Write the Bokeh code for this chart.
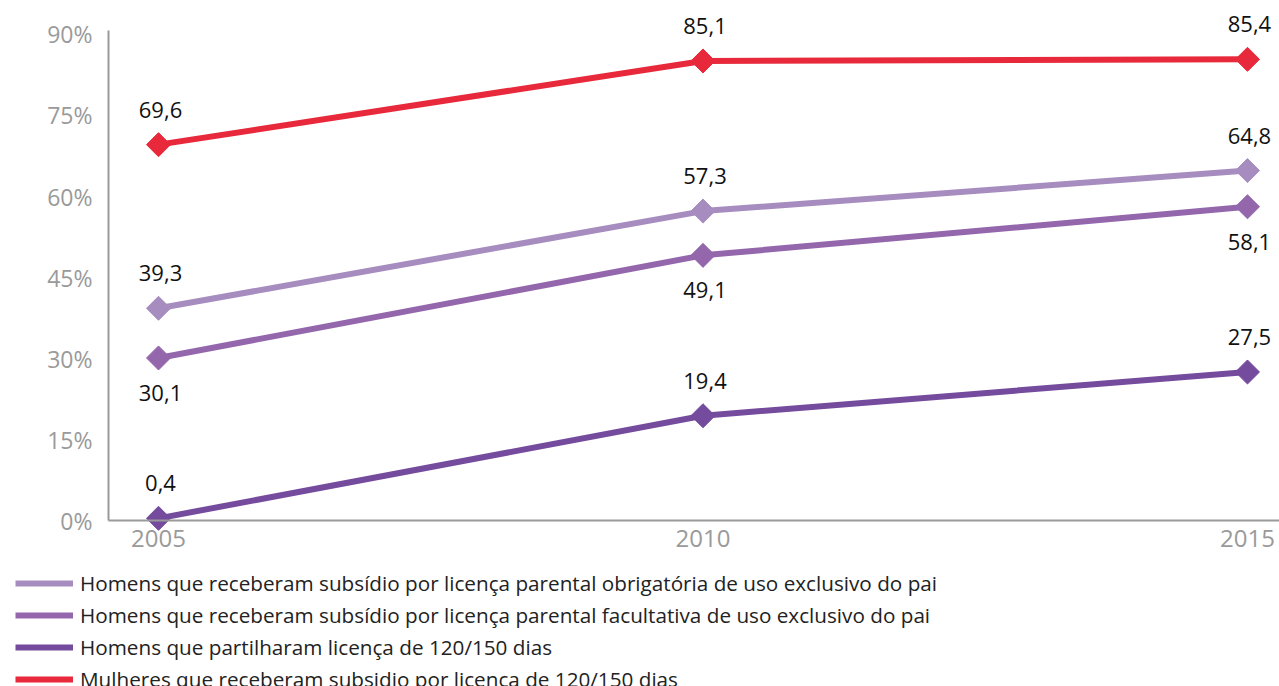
from bokeh.plotting import figure
from bokeh.models import (ColumnDataSource, FixedTicker, PrintfTickFormatter, Legend, LegendItem, Range1d)
from bokeh.core.properties import value
from bokeh.embed import file_html
from bokeh.resources import INLINE
import math

years = [2005, 2010, 2015]
series_names = [
    "Homens que receberam subsídio por licença parental obrigatória de uso exclusivo do pai",
    "Homens que receberam subsídio por licença parental facultativa de uso exclusivo do pai",
    "Homens que partilharam licença de 120/150 dias",
    "Mulheres que receberam subsidio por licença de 120/150 dias",
]
obrigatoria = [39.3, 57.3, 64.8]
facultativa = [30.1, 49.1, 58.1]
partilharam = [0.4, 19.4, 27.5]
mulheres = [69.6, 85.1, 85.4]
series_values = [obrigatoria, facultativa, partilharam, mulheres]
colors = ["#A78DBF", "#9467AD", "#754B9D", "#E8293B"]
# label placement: +1 above, -1 below
label_side = [[1, 1, 1], [-1, -1, -1], [1, 1, 1], [1, 1, 1]]
y_ticks = [0, 15, 30, 45, 60, 75, 90]
x_ticks = [2005, 2010, 2015]

FONT = "Open Sans"
X0 = 2004.541   # where the value axis sits
YTOP = 90.74    # top of the value axis line

p = figure(width=1279, height=686, output_backend="svg", toolbar_location=None,
           x_range=Range1d(2003.549, 2015.294), y_range=Range1d(-30.74, 96.296),
           min_border_left=0, min_border_right=0, min_border_top=0, min_border_bottom=0)
p.outline_line_color = None
p.grid.grid_line_color = None
p.background_fill_color = "white"

# axes (fixed inside the frame)
p.yaxis.ticker = FixedTicker(ticks=y_ticks)
p.yaxis.formatter = PrintfTickFormatter(format="%d%%")
p.yaxis.fixed_location = X0
p.yaxis.bounds = (0, YTOP)
p.xaxis.ticker = FixedTicker(ticks=x_ticks)
p.xaxis.formatter = PrintfTickFormatter(format="%d")
p.xaxis.fixed_location = 0
p.xaxis.bounds = (X0, 2015.294)
for ax in (p.xaxis, p.yaxis):
    ax.axis_line_color = "#9a9a9a"
    ax.axis_line_width = 2
    ax.major_tick_line_color = None
    ax.minor_tick_line_color = None
    ax.major_label_text_color = "#9a9a9a"
    ax.major_label_text_font = FONT
p.yaxis.major_label_text_font_size = "23px"
p.yaxis.major_label_standoff = 10
p.xaxis.major_label_text_font_size = "24px"
p.xaxis.major_label_standoff = 3

items = []
for name, vals, col, sides in zip(series_names, series_values, colors, label_side):
    src = ColumnDataSource(dict(
        x=years, y=vals,
        lab=[f"{v:.1f}".replace(".", ",") for v in vals],
        off=[-35 * s for s in sides],
    ))
    r = p.line("x", "y", source=src, line_color=col, line_width=6)
    p.scatter("x", "y", source=src, marker="square", size=17, angle=math.pi / 4,
              fill_color=col, line_color=col)
    p.text("x", "y", text="lab", source=src, y_offset="off", x_offset=2,
           text_align="center", text_baseline="middle", text_color="#111111",
           text_font=value(FONT), text_font_size="22px")
    items.append(LegendItem(label=name, renderers=[r]))

legend = Legend(items=items, location=(15, -7), orientation="vertical",
                glyph_width=58, glyph_height=22, label_height=22, spacing=4,
                label_standoff=7, padding=7, margin=0,
                label_text_font=FONT, label_text_font_size="20.7px",
                label_text_color="#222222", border_line_color=None,
                background_fill_alpha=0)
p.add_layout(legend, "center")

open("out.html", "w").write(file_html(p, INLINE))
